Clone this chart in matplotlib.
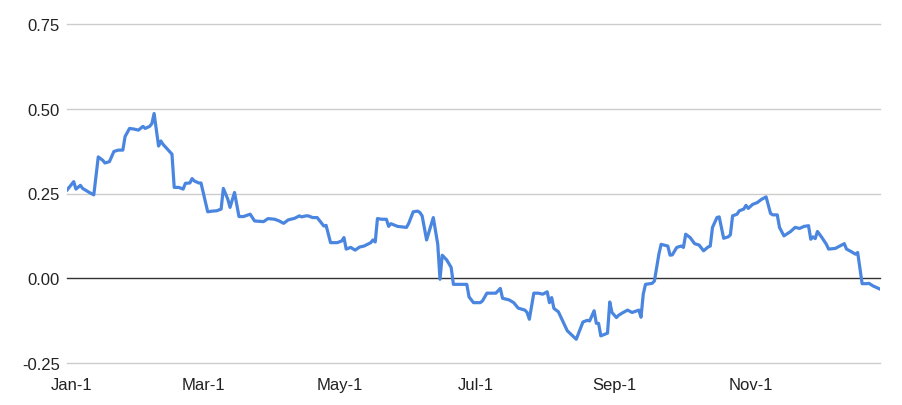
import pandas as pd
import matplotlib
matplotlib.use("Agg")
import matplotlib.pyplot as plt
import matplotlib.dates as mdates

# days counted from Jan-1
days = [-2, 1, 2, 4, 5, 8, 10, 12, 14, 15, 17, 19, 21, 23, 24, 26, 28, 30, 32, 33,
        35, 36, 37, 39, 40, 41, 45, 46, 48, 50, 51, 53, 54, 55, 57, 58, 59, 61, 63, 65,
        67, 68, 70, 71, 73, 75, 77, 80, 82, 86, 88, 91, 93, 95, 97, 100, 102, 103, 105, 106,
        108, 110, 113, 114, 116, 119, 121, 122, 123, 125, 127, 129, 131, 134, 135, 136, 137, 139, 141, 142,
        143, 146, 150, 151, 153, 155, 156, 157, 159, 162, 164, 165, 166, 168, 170, 171, 177, 178, 180, 183,
        184, 186, 190, 192, 193, 196, 198, 200, 203, 204, 205, 207, 209, 211, 213, 214, 215, 216, 218, 222,
        226, 229, 231, 232, 234, 235, 236, 237, 240, 241, 242, 244, 245, 247, 249, 251, 254, 255, 256, 257,
        260, 261, 263, 264, 267, 268, 269, 271, 273, 274, 275, 277, 279, 281, 283, 285, 286, 287, 289, 290,
        292, 294, 295, 296, 298, 299, 301, 302, 303, 305, 307, 309, 311, 313, 314, 316, 317, 319, 322, 324,
        326, 328, 330, 331, 332, 333, 334, 336, 338, 339, 342, 344, 346, 347, 349, 351, 352, 354, 356, 357,
        359, 360, 362]

values = [0.260, 0.285, 0.263, 0.274, 0.265, 0.253, 0.246, 0.358, 0.348, 0.340, 0.344, 0.374, 0.378, 0.378, 0.418, 0.442, 0.440, 0.437, 0.448, 0.442,
          0.448, 0.456, 0.486, 0.390, 0.405, 0.395, 0.366, 0.268, 0.268, 0.263, 0.280, 0.281, 0.294, 0.287, 0.281, 0.281, 0.253, 0.196, 0.198, 0.199,
          0.204, 0.265, 0.233, 0.209, 0.253, 0.182, 0.182, 0.189, 0.169, 0.167, 0.176, 0.174, 0.169, 0.162, 0.172, 0.177, 0.184, 0.181, 0.184, 0.184,
          0.179, 0.179, 0.154, 0.156, 0.105, 0.105, 0.110, 0.120, 0.086, 0.091, 0.083, 0.092, 0.095, 0.105, 0.113, 0.107, 0.176, 0.174, 0.174, 0.153,
          0.161, 0.153, 0.150, 0.162, 0.196, 0.198, 0.194, 0.184, 0.113, 0.179, 0.100, -0.003, 0.068, 0.054, 0.032, -0.018, -0.018, -0.055, -0.072, -0.072,
          -0.067, -0.044, -0.044, -0.030, -0.059, -0.064, -0.072, -0.088, -0.094, -0.101, -0.121, -0.044, -0.044, -0.047, -0.040, -0.072, -0.057, -0.089, -0.099, -0.155,
          -0.180, -0.129, -0.124, -0.126, -0.096, -0.133, -0.133, -0.170, -0.162, -0.070, -0.101, -0.116, -0.109, -0.101, -0.094, -0.101, -0.094, -0.115, -0.047, -0.018,
          -0.015, -0.008, 0.071, 0.100, 0.095, 0.068, 0.069, 0.091, 0.095, 0.091, 0.130, 0.120, 0.102, 0.098, 0.081, 0.092, 0.095, 0.150, 0.179, 0.181,
          0.118, 0.122, 0.128, 0.184, 0.189, 0.199, 0.204, 0.215, 0.206, 0.218, 0.223, 0.233, 0.240, 0.191, 0.187, 0.187, 0.150, 0.125, 0.138, 0.150,
          0.147, 0.153, 0.155, 0.115, 0.122, 0.117, 0.138, 0.120, 0.100, 0.086, 0.088, 0.095, 0.102, 0.086, 0.079, 0.071, 0.076, -0.016, -0.016, -0.015,
          -0.023, -0.026, -0.032]

y_ticks = [-0.25, 0.0, 0.25, 0.5, 0.75]
x_ticks = ["2019-01-01", "2019-03-01", "2019-05-01", "2019-07-01", "2019-09-01", "2019-11-01"]

dates = pd.Timestamp("2019-01-01") + pd.to_timedelta(days, unit="D")

plt.rcParams["font.family"] = ["Liberation Sans", "DejaVu Sans"]

fig = plt.figure(figsize=(9.02, 4.06), dpi=100)
ax = fig.add_axes([67 / 902, 42 / 406, 813 / 902, 339 / 406])

# gridlines, zero line darker
for y in y_ticks:
    if y == 0:
        ax.axhline(y, color="#333333", lw=1.0, zorder=1, clip_on=False)
    else:
        ax.axhline(y, color="#cccccc", lw=1.0, zorder=0, clip_on=False)

ax.plot(dates, values, color="#4a86e0", lw=2.3, zorder=3, solid_joinstyle="round")

ax.set_xlim(dates[0], dates[-1])
ax.set_ylim(-0.25, 0.75)
ax.set_yticks(y_ticks)
ax.set_yticklabels([f"{y:.2f}" for y in y_ticks])
ax.set_xticks(pd.to_datetime(x_ticks))
ax.xaxis.set_major_formatter(mdates.DateFormatter("%b-1"))

for s in ax.spines.values():
    s.set_visible(False)
ax.tick_params(axis="both", length=0, labelsize=12, labelcolor="#222222")
ax.tick_params(axis="y", pad=5)
ax.tick_params(axis="x", pad=10)

plt.savefig("out.png", dpi=100)
